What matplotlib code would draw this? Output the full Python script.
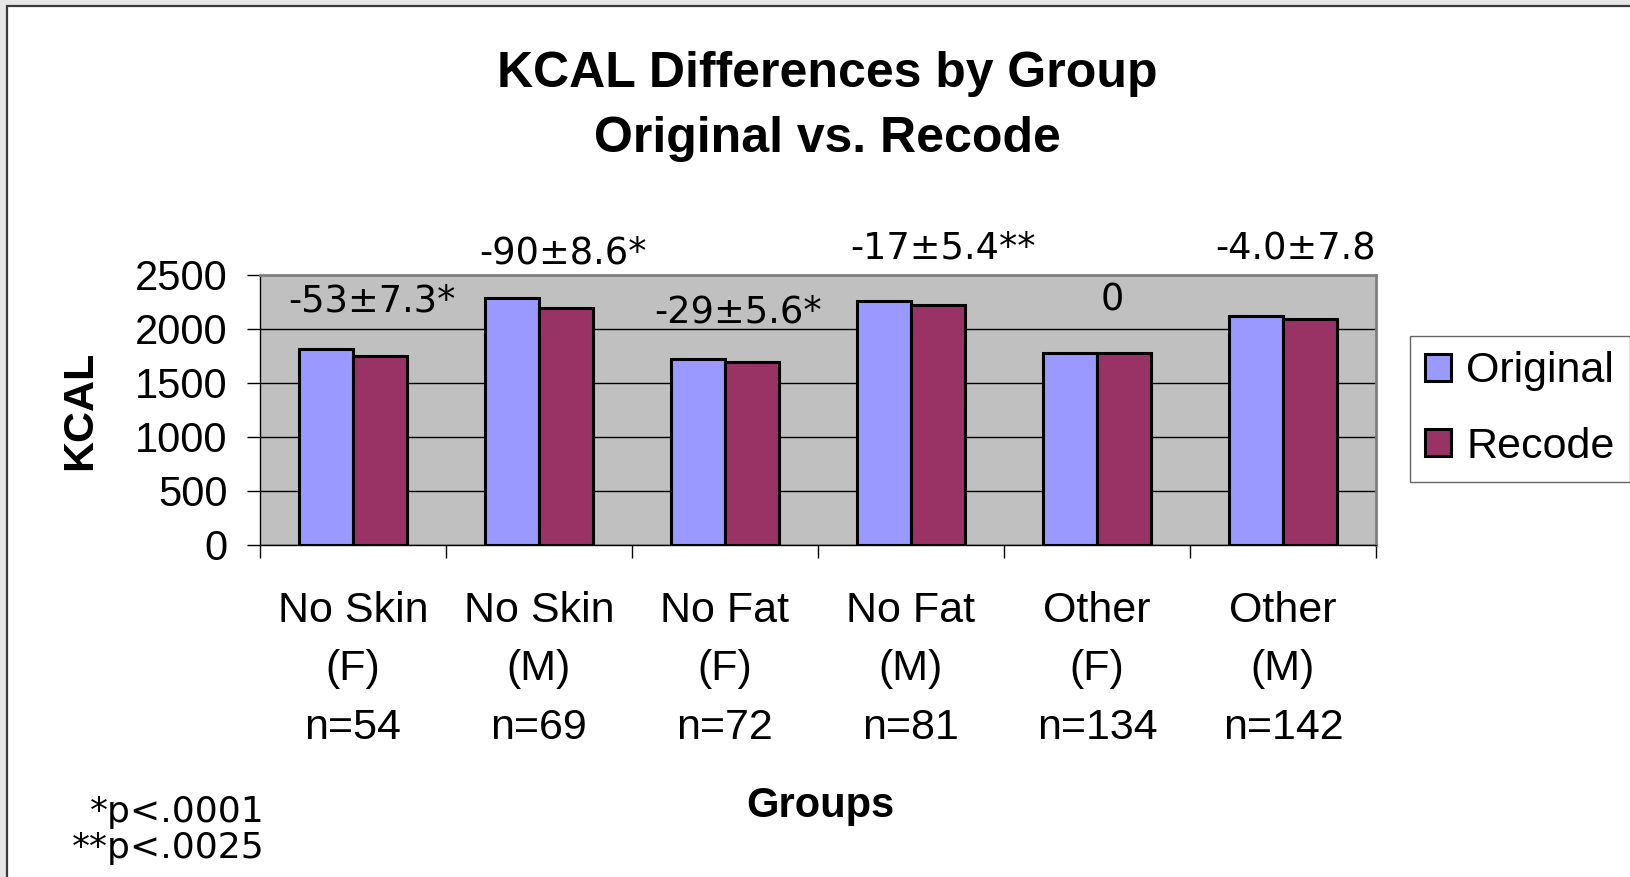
import matplotlib
matplotlib.use("Agg")
import matplotlib.pyplot as plt
from matplotlib.patches import Patch, Rectangle
import numpy as np

plt.rcParams['font.family'] = ['Liberation Sans', 'DejaVu Sans']

groups = ["No Skin\n(F)\nn=54", "No Skin\n(M)\nn=69", "No Fat\n(F)\nn=72",
          "No Fat\n(M)\nn=81", "Other\n(F)\nn=134", "Other\n(M)\nn=142"]
original = [1815, 2285, 1725, 2255, 1780, 2120]
recode = [1750, 2190, 1690, 2225, 1780, 2090]
diff_labels = ["-53\u00b17.3*", "-90\u00b18.6*", "-29\u00b15.6*",
               "-17\u00b15.4**", "0", "-4.0\u00b17.8"]
# where each difference label sits (category offset, kcal)
label_dx = [0.10, 0.13, 0.07, 0.17, 0.08, 0.07]
label_y = [2259, 2705, 2153, 2747, 2273, 2740]
yticks = [0, 500, 1000, 1500, 2000, 2500]

W, H = 1631, 877
fig = plt.figure(figsize=(W / 100, H / 100), dpi=100)

# slide background strips and chart frame
fig.patches.append(Rectangle((0, 0), 7 / W, 1, transform=fig.transFigure,
                             facecolor='#e6e6e6', edgecolor='none', zorder=-5))
fig.patches.append(Rectangle((0, 1 - 6 / H), 1, 6 / H, transform=fig.transFigure,
                             facecolor='#e6e6e6', edgecolor='none', zorder=-5))
fig.patches.append(Rectangle((7.5 / W, -0.05), 1.2, 1.05 - 6.5 / H, transform=fig.transFigure,
                             facecolor='none', edgecolor='#3a3a3a', linewidth=1.6, zorder=-4))

ax = fig.add_axes([260 / W, 1 - 545 / H, (1376 - 260) / W, (545 - 275) / H])
ax.set_facecolor('#c0c0c0')

x = np.arange(len(groups))
w = 0.29
ax.bar(x - w / 2, original, w, color='#9999ff', edgecolor='black', linewidth=2.2, zorder=3)
ax.bar(x + w / 2, recode, w, color='#993366', edgecolor='black', linewidth=2.2, zorder=3)

for i, t in enumerate(diff_labels):
    ax.text(x[i] + label_dx[i], label_y[i], t, ha='center', va='center',
            fontsize=26.5, family='DejaVu Sans', clip_on=False)

ax.set_xlim(-0.5, len(groups) - 0.5)
ax.set_ylim(0, 2500)
ax.set_yticks(yticks)
ax.yaxis.grid(True, color='black', linewidth=1, zorder=1)
ax.tick_params(axis='y', direction='out', length=9.4, width=1, labelsize=30, pad=14)

ax.set_xticks(np.arange(-0.5, len(groups), 1.0))
ax.set_xticklabels([])
ax.set_xticks(x, minor=True)
ax.set_xticklabels(groups, minor=True, fontsize=31, linespacing=1.6)
ax.tick_params(axis='x', which='major', direction='out', length=9.4, width=1)
ax.tick_params(axis='x', which='minor', length=0, pad=33)

ax.spines['left'].set_color('black')
ax.spines['bottom'].set_color('black')
ax.spines['left'].set_linewidth(1)
ax.spines['bottom'].set_linewidth(1)
for s in ['top', 'right']:
    ax.spines[s].set_color('#808080')
    ax.spines[s].set_linewidth(2)

fig.text(827 / W, 1 - 86.7 / H, "KCAL Differences by Group", ha='center', va='baseline',
         fontsize=36, fontweight='bold')
fig.text(827 / W, 1 - 151.5 / H, "Original vs. Recode", ha='center', va='baseline',
         fontsize=36, fontweight='bold')
fig.text(80 / W, 1 - 410 / H, "KCAL", rotation=90, ha='center', va='center',
         fontsize=31, fontweight='bold')
fig.text(820 / W, 1 - 816.7 / H, "Groups", ha='center', va='baseline',
         fontsize=30, fontweight='bold')

fig.text(265 / W, 1 - 821.7 / H, "*p<.0001", ha='right', va='baseline',
         fontsize=26, family='DejaVu Sans')
fig.text(265 / W, 1 - 858 / H, "**p<.0025", ha='right', va='baseline',
         fontsize=26, family='DejaVu Sans')

handles = [Patch(facecolor='#9999ff', edgecolor='black', linewidth=2.2, label='Original'),
           Patch(facecolor='#993366', edgecolor='black', linewidth=2.2, label='Recode')]
leg = fig.legend(handles=handles, loc='center', bbox_to_anchor=(1520 / W, 1 - 409 / H),
                 fontsize=31, frameon=True, fancybox=False, handlelength=0.6,
                 handleheight=0.6, handletextpad=0.35, labelspacing=0.82,
                 borderpad=0.35, borderaxespad=0)
leg.get_frame().set_edgecolor('#404040')
leg.get_frame().set_linewidth(1)

fig.savefig("out.png", dpi=100)
